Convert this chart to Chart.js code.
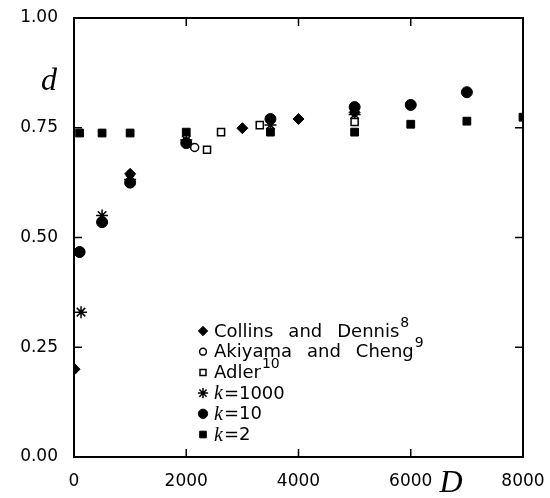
<!DOCTYPE html>
<html>
<head>
<meta charset="utf-8">
<script src="https://cdn.jsdelivr.net/npm/chart.js@4.4.0/dist/chart.umd.min.js"></script>
<style>
  html, body { margin: 0; padding: 0; background: #fff; }
</style>
</head>
<body>
<canvas id="chart" width="550" height="498"></canvas>
<script>
// Values (D on x, d on y)
const collinsD = [10, 1000, 3000, 4000, 5000];
const collinsVal = [0.200, 0.645, 0.749, 0.770, 0.785];

const akiyamaD = [2150];
const akiyamaVal = [0.705];

const adlerD = [2370, 2620, 3310, 5000];
const adlerVal = [0.700, 0.740, 0.756, 0.763];

const k1000D = [125, 500, 1000, 2000, 3500, 5000];
const k1000Val = [0.330, 0.550, 0.632, 0.722, 0.756, 0.780];

const k10D = [100, 500, 1000, 2000, 3500, 5000, 6000, 7000];
const k10Val = [0.467, 0.535, 0.625, 0.715, 0.770, 0.797, 0.802, 0.831];

const k2D = [100, 500, 1000, 2000, 3500, 5000, 6000, 7000, 8000];
const k2Val = [0.738, 0.738, 0.738, 0.740, 0.740, 0.740, 0.758, 0.765, 0.774];

const xTicks = [0, 2000, 4000, 6000, 8000];
const yTicks = [0, 0.25, 0.5, 0.75, 1.0];

const seriesNames = ['Collins and Dennis', 'Akiyama and Cheng', 'Adler', 'k=1000', 'k=10', 'k=2'];
const seriesRefs = ['8', '9', '10', '', '', ''];

function pairs(xs, ys) {
    return xs.map((v, i) => ({ x: v, y: ys[i] }));
}

const SANS = '"DejaVu Sans", sans-serif';
const SERIF = '"Liberation Serif", serif';

// point look for each series, also used in the legend
const styles = [
    { pointStyle: 'rectRot', radius: 5.5, bg: '#000', bw: 1 },
    { pointStyle: 'circle', radius: 4, bg: '#fff', bw: 1.5 },
    { pointStyle: 'rect', radius: 5, bg: '#fff', bw: 1.5 },
    { pointStyle: 'star', radius: 6, bg: '#000', bw: 1.5 },
    { pointStyle: 'circle', radius: 5.5, bg: '#000', bw: 1 },
    { pointStyle: 'rect', radius: 5.5, bg: '#000', bw: 1 }
];

const allData = [
    pairs(collinsD, collinsVal),
    pairs(akiyamaD, akiyamaVal),
    pairs(adlerD, adlerVal),
    pairs(k1000D, k1000Val),
    pairs(k10D, k10Val),
    pairs(k2D, k2Val)
];

const datasets = allData.map((d, i) => ({
    label: seriesNames[i],
    data: d,
    pointStyle: styles[i].pointStyle,
    pointRadius: styles[i].radius,
    pointBackgroundColor: styles[i].bg,
    pointBorderColor: '#000',
    pointBorderWidth: styles[i].bw,
    showLine: false
}));

// box round the plot plus inward ticks on all four sides
const framePlugin = {
    id: 'frame',
    beforeDatasetsDraw(chart) {
        const { ctx, chartArea: a, scales } = chart;
        ctx.save();
        ctx.strokeStyle = '#000';
        ctx.lineWidth = 2;
        ctx.strokeRect(a.left, a.top, a.right - a.left, a.bottom - a.top);
        ctx.lineWidth = 1.5;
        ctx.beginPath();
        scales.x.ticks.forEach(t => {
            const px = scales.x.getPixelForValue(t.value);
            ctx.moveTo(px, a.bottom); ctx.lineTo(px, a.bottom - 8);
            ctx.moveTo(px, a.top); ctx.lineTo(px, a.top + 8);
        });
        scales.y.ticks.forEach(t => {
            const py = scales.y.getPixelForValue(t.value);
            ctx.moveTo(a.left, py); ctx.lineTo(a.left + 8, py);
            ctx.moveTo(a.right, py); ctx.lineTo(a.right - 8, py);
        });
        ctx.stroke();
        ctx.restore();
    }
};

// axis letters d and D, and the legend with superscripts / italic k
const textPlugin = {
    id: 'texts',
    afterDraw(chart) {
        const { ctx } = chart;
        ctx.save();
        ctx.fillStyle = '#000';
        ctx.textBaseline = 'alphabetic';
        ctx.textAlign = 'center';
        ctx.font = 'italic 32px ' + SERIF;
        ctx.fillText('d', 49, 90);
        ctx.fillText('D', 451, 492);

        // legend
        const mx = 203, tx = 214, y0 = 331, step = 20.7;
        ctx.textAlign = 'left';
        ctx.textBaseline = 'middle';
        seriesNames.forEach((name, i) => {
            const y = y0 + i * step;
            const s = styles[i];
            ctx.fillStyle = s.bg;
            ctx.strokeStyle = '#000';
            ctx.lineWidth = s.bw;
            Chart.helpers.drawPoint(ctx, {
                pointStyle: s.pointStyle,
                radius: s.radius * 0.85,
                rotation: 0,
                borderWidth: s.bw
            }, mx, y);
            ctx.fillStyle = '#000';
            let x = tx;
            let rest = name;
            if (name.startsWith('k')) {
                ctx.font = 'italic 20px ' + SERIF;
                ctx.fillText('k', x, y + 1);
                x += ctx.measureText('k').width + 1;
                rest = name.slice(1);
            }
            ctx.font = '18px ' + SANS;
            const words = rest.split(' ');
            words.forEach((w, j) => {
                ctx.fillText(w, x, y + 1);
                x += ctx.measureText(w).width + (j < words.length - 1 ? 15 : 0);
            });
            if (seriesRefs[i]) {
                ctx.font = '14px ' + SANS;
                ctx.fillText(seriesRefs[i], x + 1, y - 8);
            }
        });
        ctx.restore();
    }
};

const config = {
    type: 'scatter',
    data: { datasets: datasets },
    options: {
        responsive: false,
        animation: false,
        layout: { padding: { top: 18, right: 27, left: 0, bottom: 0 } },
        plugins: {
            legend: { display: false },
            tooltip: { enabled: false }
        },
        scales: {
            x: {
                type: 'linear',
                min: 0,
                max: 8000,
                afterBuildTicks: scale => { scale.ticks = xTicks.map(v => ({ value: v })); },
                afterFit: scale => { scale.height = 41; scale.paddingRight = 0; scale.paddingLeft = 0; },
                grid: { display: false, drawTicks: false },
                border: { display: false },
                ticks: {
                    padding: 14,
                    color: '#000',
                    font: { family: SANS, size: 17 },
                    callback: v => String(v)
                }
            },
            y: {
                type: 'linear',
                min: 0,
                max: 1,
                afterBuildTicks: scale => { scale.ticks = yTicks.map(v => ({ value: v })); },
                afterFit: scale => { scale.width = 74; scale.paddingTop = 0; scale.paddingBottom = 0; },
                grid: { display: false, drawTicks: false },
                border: { display: false },
                ticks: {
                    padding: 16,
                    color: '#000',
                    font: { family: SANS, size: 17 },
                    callback: v => Number(v).toFixed(2)
                }
            }
        }
    },
    plugins: [framePlugin, textPlugin]
};

const ctx = document.getElementById('chart').getContext('2d');
const myChart = new Chart(ctx, config);
</script>
</body>
</html>
